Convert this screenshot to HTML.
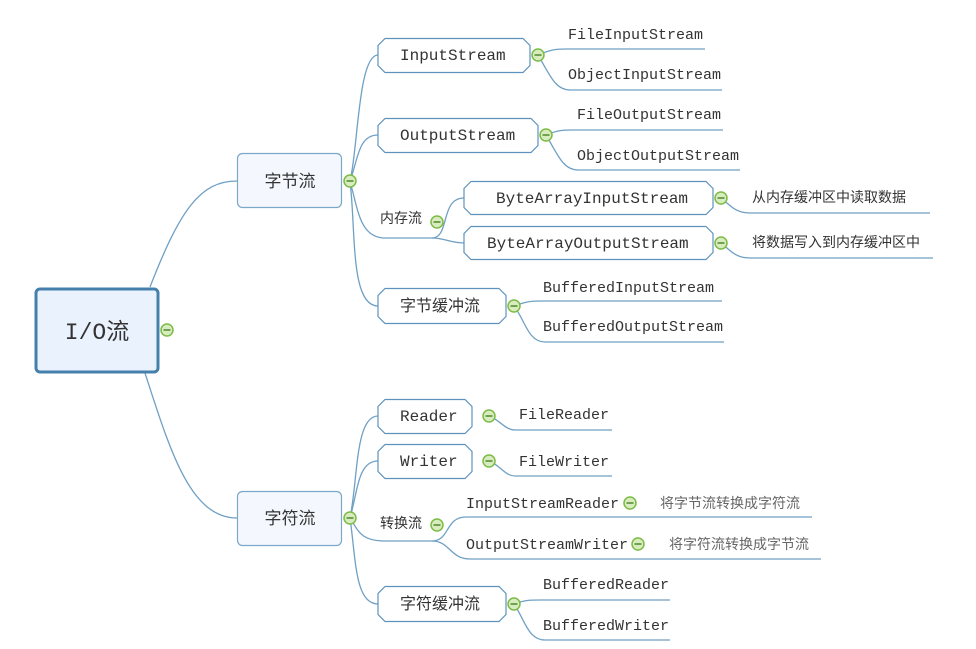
<!DOCTYPE html>
<html><head><meta charset="utf-8"><style>
html,body{margin:0;padding:0;background:#fff;}
svg{display:block;}
.m{font-family:"Liberation Mono","Noto Sans CJK SC",monospace;fill:#333;}
.c{font-family:"Liberation Sans","Noto Sans CJK SC",sans-serif;fill:#333;}
.g{font-family:"Liberation Sans","Noto Sans CJK SC",sans-serif;fill:#666;}
</style></head><body>
<svg width="976" height="649" viewBox="0 0 976 649" xmlns="http://www.w3.org/2000/svg">
<defs>
<g id="col"><circle r="6" fill="#d8ecc0" stroke="#7cbb46" stroke-width="1.5"/><line x1="-3.5" y1="0" x2="3.5" y2="0" stroke="#4f8a2a" stroke-width="1.5"/></g>
</defs>
<g fill="none" stroke="#6fa0c4" stroke-width="1.3">
<!-- root -->
<path d="M150 287 C180 210 200 181 237 181"/>
<path d="M145 373 C170 450 190 518 237 518"/>
<!-- 字节流 children -->
<path d="M350 181 C358 150 358 55 378 55"/>
<path d="M350 181 C358 160 358 135 378 135"/>
<path d="M350 181 C358 210 360 238 385 238 L432 238"/>
<path d="M350 181 C356 230 350 306 378 306"/>
<!-- InputStream -->
<path d="M538 55 C550 50 555 49 565 49 L705 49"/>
<path d="M538 55 C550 75 555 90 570 90 L722 90"/>
<path d="M546 135 C558 130 563 130 573 130 L723 130"/>
<path d="M546 135 C558 155 563 170 578 170 L740 170"/>
<!-- 内存流 -->
<path d="M432 238 C450 238 440 198 464 198"/>
<path d="M432 238 C445 238 450 243 464 243"/>
<path d="M721 198 C730 205 735 213 750 213 L930 213"/>
<path d="M721 243 C730 250 735 258 750 258 L933 258"/>
<!-- 字节缓冲流 -->
<path d="M514 306 C525 302 530 301 540 301 L722 301"/>
<path d="M514 306 C525 320 528 342 545 342 L724 342"/>
<!-- 字符流 children -->
<path d="M350 518 C358 480 355 416 378 416"/>
<path d="M350 518 C358 490 358 461 378 461"/>
<path d="M350 518 C358 530 360 541 385 541 L432 541"/>
<path d="M350 518 C356 560 355 604 378 604"/>
<path d="M489 416 C500 420 505 430 515 430 L612 430"/>
<path d="M489 461 C500 465 505 476 515 476 L612 476"/>
<path d="M432 541 C450 541 445 517 466 517 L812 517"/>
<path d="M432 541 C450 541 450 559 470 559 L821 559"/>
<path d="M514 604 C525 600 530 600 540 600 L670 600"/>
<path d="M514 604 C525 620 528 640 545 640 L670 640"/>
</g>
<!-- root -->
<rect x="36" y="289" width="122" height="83" rx="4" fill="#eaf2fd" stroke="#4580ad" stroke-width="3"/>
<text x="97" y="339" class="m" font-size="23" text-anchor="middle">I/O流</text>
<use href="#col" x="167" y="330"/>
<!-- 字节流 / 字符流 -->
<rect x="237.5" y="153.5" width="104" height="54" rx="5" fill="#f4f8fe" stroke="#7ba7c9" stroke-width="1.2"/>
<text x="290" y="187" class="c" font-size="17" text-anchor="middle">字节流</text>
<use href="#col" x="350" y="181"/>
<rect x="237.5" y="491.5" width="104" height="54" rx="5" fill="#f4f8fe" stroke="#7ba7c9" stroke-width="1.2"/>
<text x="290" y="524" class="c" font-size="17" text-anchor="middle">字符流</text>
<use href="#col" x="350" y="518"/>
<!-- octagons -->
<g fill="#fff" stroke="#5f93bd" stroke-width="1.2">
<path d="M385 38.5 H523 L530 45.5 V65.5 L523 72.5 H385 L378 65.5 V45.5 Z"/>
<path d="M385 118.5 H531 L538 125.5 V145.5 L531 152.5 H385 L378 145.5 V125.5 Z"/>
<path d="M471 181.5 H706 L713 188.5 V207.5 L706 214.5 H471 L464 207.5 V188.5 Z"/>
<path d="M471 226.5 H706 L713 233.5 V252.5 L706 259.5 H471 L464 252.5 V233.5 Z"/>
<path d="M385 288.5 H499 L506 295.5 V316.5 L499 323.5 H385 L378 316.5 V295.5 Z"/>
<path d="M385 399.5 H465 L472 406.5 V426.5 L465 433.5 H385 L378 426.5 V406.5 Z"/>
<path d="M385 444.5 H465 L472 451.5 V471.5 L465 478.5 H385 L378 471.5 V451.5 Z"/>
<path d="M385 586.5 H499 L506 593.5 V614.5 L499 621.5 H385 L378 614.5 V593.5 Z"/>
</g>
<g class="m" font-size="16">
<text x="400" y="60">InputStream</text>
<text x="400" y="140">OutputStream</text>
<text x="496" y="203">ByteArrayInputStream</text>
<text x="487" y="248">ByteArrayOutputStream</text>
<text x="400" y="421">Reader</text>
<text x="400" y="466">Writer</text>
</g>
<text x="400" y="311" class="c" font-size="16">字节缓冲流</text>
<text x="400" y="609" class="c" font-size="16">字符缓冲流</text>
<text x="380" y="223" class="c" font-size="14">内存流</text>
<text x="380" y="528" class="c" font-size="14">转换流</text>
<g class="m" font-size="15">
<text x="568" y="39">FileInputStream</text>
<text x="568" y="79">ObjectInputStream</text>
<text x="577" y="119">FileOutputStream</text>
<text x="577" y="160">ObjectOutputStream</text>
<text x="543" y="292">BufferedInputStream</text>
<text x="543" y="331">BufferedOutputStream</text>
<text x="519" y="419">FileReader</text>
<text x="519" y="466">FileWriter</text>
<text x="466" y="508">InputStreamReader</text>
<text x="466" y="549">OutputStreamWriter</text>
<text x="543" y="589">BufferedReader</text>
<text x="543" y="630">BufferedWriter</text>
</g>
<g class="c" font-size="14">
<text x="752" y="202">从内存缓冲区中读取数据</text>
<text x="752" y="247">将数据写入到内存缓冲区中</text>
</g>
<g class="g" font-size="14">
<text x="660" y="508">将字节流转换成字符流</text>
<text x="669" y="549">将字符流转换成字节流</text>
</g>
<use href="#col" x="538" y="55"/>
<use href="#col" x="546" y="135"/>
<use href="#col" x="437" y="222"/>
<use href="#col" x="721" y="198"/>
<use href="#col" x="721" y="243"/>
<use href="#col" x="514" y="306"/>
<use href="#col" x="489" y="416"/>
<use href="#col" x="489" y="461"/>
<use href="#col" x="437" y="525"/>
<use href="#col" x="630" y="503"/>
<use href="#col" x="638" y="544"/>
<use href="#col" x="514" y="604"/>
</svg>
</body></html>
